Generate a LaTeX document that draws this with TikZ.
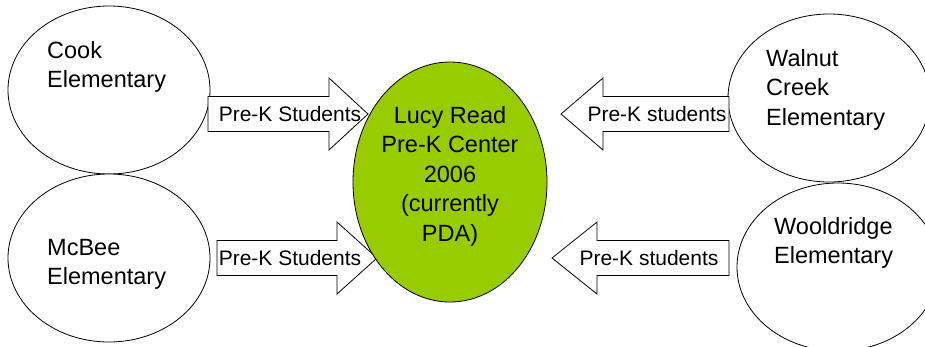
\documentclass[tikz,border=0pt]{standalone}
\usepackage{fontspec}
\setmainfont{Liberation Sans}
\usetikzlibrary{shapes,positioning}
\definecolor{centergreen}{RGB}{153,204,0}

% block arrow: tail x, head base x, tip x, middle y
\newcommand{\prekarrow}[4]{%
  \draw[blockarrow] (#1,#4-17.5) -- (#2,#4-17.5) -- (#2,#4-36) -- (#3,#4)
    -- (#2,#4+36) -- (#2,#4+17.5) -- (#1,#4+17.5) -- cycle;}

\begin{document}
\begin{tikzpicture}[
    x=1pt, y=-1pt,
    school/.style={ellipse, draw, line width=0.8pt, fill=white, minimum width=202pt, minimum height=168pt, inner sep=0pt},
    center/.style={ellipse, draw, line width=0.8pt, fill=centergreen, minimum width=194pt, minimum height=240pt, inner sep=0pt},
    schooltext/.style={align=left, inner sep=0pt, anchor=north west, font=\fontsize{23.5}{29.5}\selectfont},
    centertext/.style={align=center, inner sep=0pt, anchor=north, font=\fontsize{23.5}{29.5}\selectfont},
    blockarrow/.style={draw, line width=0.8pt, fill=white, line join=miter},
    arrowlabel/.style={inner sep=0pt, font=\fontsize{21}{25}\selectfont}
]
\useasboundingbox (0,0) rectangle (925,346);

% Schools
\node[school] (cook) at (109,90) {};
\node[school] (mcbee) at (109,258) {};
\node[school] (walnut) at (829,98) {};
\node[school] (wooldridge) at (838,267) {};

% Block arrows
\prekarrow{208}{329}{368}{114}
\prekarrow{217}{337}{377}{258}
\prekarrow{729}{603}{561}{114}
\prekarrow{729}{597}{552}{258}

% Pre-K center
\node[center] (lucy) at (450,182) {};

% Texts
\node[schooltext] (cook-text) at (47,41) {Cook\\Elementary};
\node[schooltext] (mcbee-text) at (47,239) {McBee\\Elementary};
\node[schooltext] (walnut-text) at (766,49) {Walnut\\Creek\\Elementary};
\node[schooltext] (wooldridge-text) at (774,217) {Wooldridge\\Elementary};
\node[centertext] (lucy-text) at (450,106) {Lucy Read\\Pre-K Center\\2006\\(currently\\PDA)};

% Arrow labels
\node[arrowlabel] (cook-label) at (290,114) {Pre-K Students};
\node[arrowlabel] (mcbee-label) at (290,258) {Pre-K Students};
\node[arrowlabel] (walnut-label) at (657,114) {Pre-K students};
\node[arrowlabel] (wooldridge-label) at (649,258) {Pre-K students};

\end{tikzpicture}
\end{document}
